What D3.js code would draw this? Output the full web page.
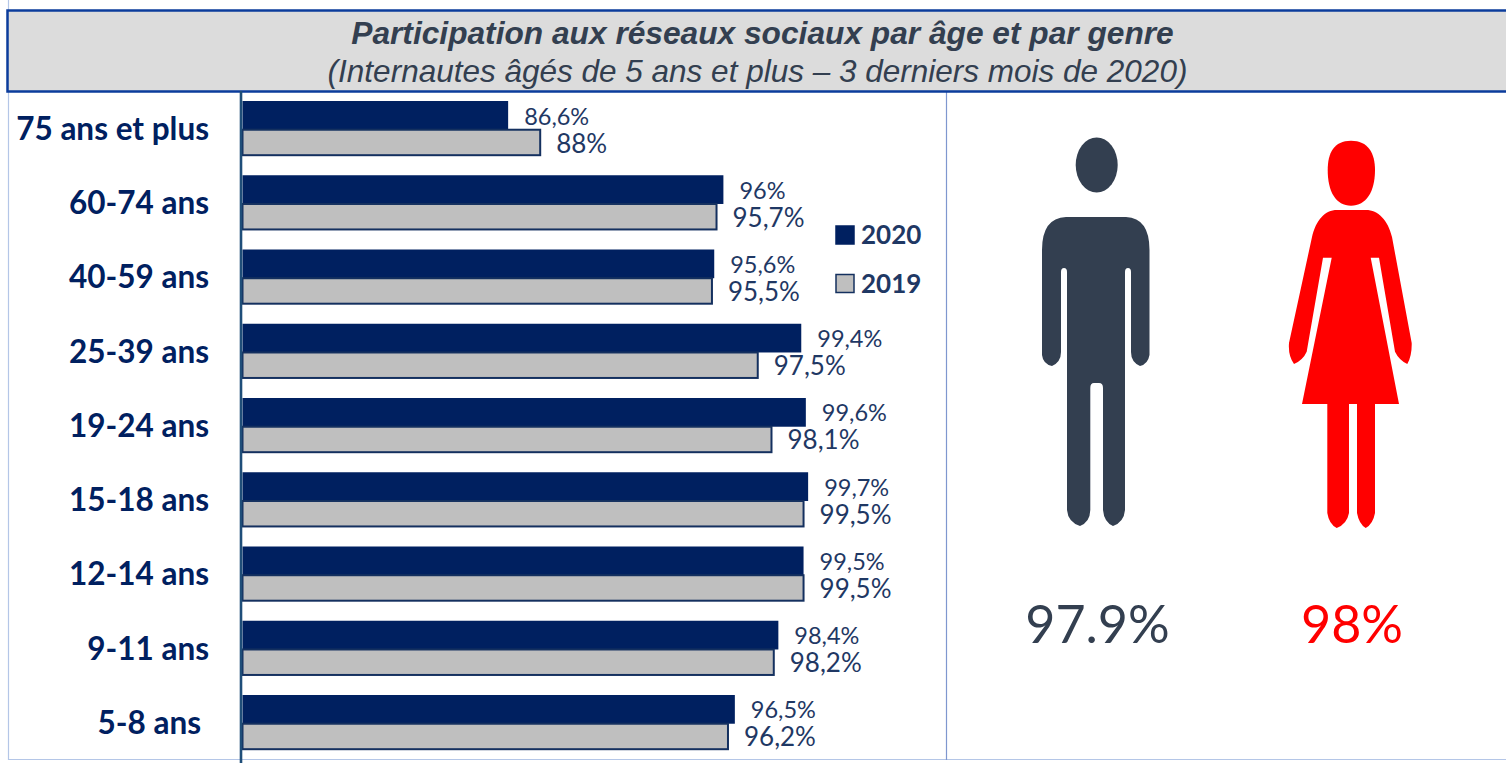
<!DOCTYPE html>
<html>
<head>
    <meta charset='utf-8'/>
    <title>Participation aux réseaux sociaux</title>
    <style>
        html, body { margin: 0; padding: 0; background: #fff; overflow: hidden; }
        svg { display: block; }
        .cat text { font-family: Lato, sans-serif; font-weight: 700; font-size: 31.5px; fill: #002060; }
        .val { font-family: Lato, sans-serif; fill: #1f3864; }
        .leg { font-family: Lato, sans-serif; font-weight: 700; font-size: 26px; fill: #1f3864; }
        .title { font-family: "Liberation Sans", sans-serif; font-style: italic; fill: #333f50; text-anchor: middle; }
    </style>
</head>
<body>
<div id="chart"></div>

<script src="https://d3js.org/d3.v7.min.js"></script>
<script type="text/javascript">

    // values, top row first
    var categories = ["75 ans et plus", "60-74 ans", "40-59 ans", "25-39 ans", "19-24 ans", "15-18 ans", "12-14 ans", "9-11 ans", "5-8 ans"];
    var values2020 = [86.6, 96, 95.6, 99.4, 99.6, 99.7, 99.5, 98.4, 96.5];
    var values2019 = [88, 95.7, 95.5, 97.5, 98.1, 99.5, 99.5, 98.2, 96.2];
    var years = ["2020", "2019"];
    var genders = ["Hommes", "Femmes"];
    var genderLabels = ["97.9%", "98%"];
    var titleLines = ["Participation aux réseaux sociaux par âge et par genre",
        "(Internautes âgés de 5 ans et plus – 3 derniers mois de 2020)"];

    var svg_dx = 1506, svg_dy = 763;

    var navy = "#002060", grey = "#bfbfbf", outline = "#14305f", slate = "#333f50";

    var svg = d3.select("#chart")
        .append("svg")
        .attr("width", svg_dx)
        .attr("height", svg_dy);

    // scales, the value axis of the original starts at 75
    var x = d3.scaleLinear().domain([75, 100]).range([242.5, 815]);
    var y = d3.scaleBand().domain(categories).range([101, 749.2]).paddingInner(0.27);
    var darkH = y.bandwidth() * 0.53;

    // frame lines
    svg.append("path")
        .attr("d", "M8.5 0V759.5H1506")
        .attr("fill", "none")
        .attr("stroke", "#b4c6e7")
        .attr("stroke-width", 1.2);
    svg.append("line")
        .attr("x1", 946.5).attr("x2", 946.5)
        .attr("y1", 91).attr("y2", 760)
        .attr("stroke", "#7f97cf")
        .attr("stroke-width", 1.2);

    // title band
    svg.append("rect")
        .attr("x", 7.5).attr("y", 10.5)
        .attr("width", 1500).attr("height", 81)
        .attr("fill", "#dcdcdc")
        .attr("stroke", "#0b3c9c")
        .attr("stroke-width", 2.5);
    svg.append("text")
        .attr("class", "title")
        .attr("x", 762.5).attr("y", 44)
        .style("font-weight", "bold")
        .style("font-size", "31.7px")
        .text(titleLines[0]);
    svg.append("text")
        .attr("class", "title")
        .attr("x", 757.5).attr("y", 82)
        .style("font-size", "31.5px")
        .text(titleLines[1]);

    // bars
    var rows = svg.append("g").selectAll("g")
        .data(categories)
        .enter()
        .append("g")
        .attr("transform", d => "translate(0," + y(d) + ")");

    rows.append("rect")
        .attr("x", x(75))
        .attr("y", 0)
        .attr("width", (d, i) => x(values2020[i]) - x(75))
        .attr("height", darkH)
        .attr("fill", navy);

    rows.append("rect")
        .attr("x", x(75))
        .attr("y", darkH)
        .attr("width", (d, i) => x(values2019[i]) - x(75))
        .attr("height", y.bandwidth() - darkH)
        .attr("fill", grey)
        .attr("stroke", outline)
        .attr("stroke-width", 2);

    // data labels
    function fmt(v) {
        return String(v).replace(".", ",") + "%";
    }

    rows.append("text")
        .attr("class", "val")
        .attr("x", (d, i) => x(values2020[i]) + 16)
        .attr("y", 23.5)
        .style("font-size", "23.5px")
        .text((d, i) => fmt(values2020[i]));

    rows.append("text")
        .attr("class", "val")
        .attr("x", (d, i) => x(values2019[i]) + 16)
        .attr("y", 51.5)
        .style("font-size", "26px")
        .text((d, i) => fmt(values2019[i]));

    // category axis
    var axis = svg.append("g")
        .attr("class", "cat")
        .attr("transform", "translate(241,0)")
        .call(d3.axisLeft(y).tickSize(0).tickPadding(32));
    axis.select(".domain").remove();
    axis.append("line")
        .attr("y1", 91).attr("y2", 763)
        .attr("stroke", "#1f4e79")
        .attr("stroke-width", 2.6);
    axis.selectAll(".tick text")
        .attr("dx", d => d === "5-8 ans" ? -8 : 0)
        .attr("dy", "0.37em");

    // legend
    var legend = svg.append("g").selectAll("g")
        .data(years)
        .enter()
        .append("g")
        .attr("transform", (d, i) => "translate(836," + (226 + i * 48.5) + ")");
    legend.append("rect")
        .attr("width", 18).attr("height", 18)
        .attr("fill", (d, i) => i === 0 ? navy : grey)
        .attr("stroke", (d, i) => i === 0 ? navy : outline)
        .attr("stroke-width", 1.5);
    legend.append("text")
        .attr("class", "leg")
        .attr("x", 25).attr("y", 18)
        .text(d => d);

    // pictograms
    var icons = svg.append("g");
    icons.append("ellipse")
        .attr("cx", 1096.7).attr("cy", 165)
        .attr("rx", 21).attr("ry", 27.5)
        .attr("fill", slate);
    icons.append("path")
        .attr("fill", slate)
        .attr("d", "M1066 217H1126Q1149.5 218 1149.5 250V355Q1148 364 1140 366Q1131 362 1131 352V272Q1131 268 1128 268"
            + "Q1125 268 1125 272V510Q1124 522 1113 526Q1104 522 1103 510V388Q1103 383 1099 383H1094Q1090.3 383 1090.3 388"
            + "V510Q1090 522 1080 526Q1068 522 1067 510V272Q1067 268 1064 268Q1061 268 1061 272V352Q1061 362 1052 366"
            + "Q1043 364 1042 355V250Q1042 218 1066 217Z");
    icons.append("path")
        .attr("fill", "#ff0000")
        .attr("d", "M1351 140.7C1368 140.7 1375 153 1375 170C1375 192 1366 205.7 1351 205.7C1336 205.7 1327.7 192 1327.7 170"
            + "C1327.7 153 1334 140.7 1351 140.7Z");
    icons.append("path")
        .attr("fill", "#ff0000")
        .attr("d", "M1337 210H1366C1378 210 1388 220 1392 237L1411.7 343Q1412 356 1407.3 364Q1399 360 1395 351.7L1379 257.7H1370.7"
            + "L1399 404H1375V513Q1373 524 1365.7 528Q1359 524 1357 513V404H1349V513Q1347 524 1336.7 528Q1329 524 1327.3 513V404"
            + "H1302L1331.7 257.7H1323L1306.7 351.7Q1303 360 1294 364Q1288 356 1289 343L1312 237C1316 220 1325 210 1337 210Z");

    // percentages under the pictograms
    svg.append("g").selectAll("text")
        .data(genders)
        .enter()
        .append("text")
        .attr("x", (d, i) => i === 0 ? 1097.5 : 1352)
        .attr("y", 643)
        .attr("text-anchor", "middle")
        .style("font-family", "Lato, sans-serif")
        .style("font-size", "52px")
        .attr("fill", (d, i) => i === 0 ? slate : "#ff0000")
        .text((d, i) => genderLabels[i]);

</script>

</body>
</html>
